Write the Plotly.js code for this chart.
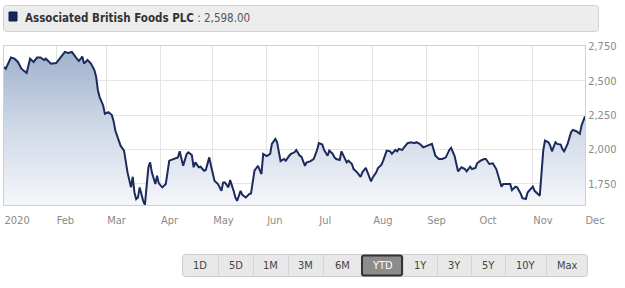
<!DOCTYPE html>
<html>
<head>
<meta charset="utf-8">
<script src="https://cdn.plot.ly/plotly-3.0.1.min.js"></script>
<style>
  html, body { margin: 0; padding: 0; background: #ffffff; }
  #chart { width: 625px; height: 288px; }
</style>
</head>
<body>
<div id="chart"></div>
<script>
// ---- data ----
const dates = [
  "2020-01-02","2020-01-03","2020-01-06","2020-01-08","2020-01-10","2020-01-12","2020-01-15","2020-01-17","2020-01-19","2020-01-21",
  "2020-01-23","2020-01-25","2020-01-26","2020-01-28","2020-01-29","2020-02-01","2020-02-03","2020-02-06","2020-02-08","2020-02-10",
  "2020-02-12","2020-02-14","2020-02-16","2020-02-17","2020-02-19","2020-02-21","2020-02-23","2020-02-24","2020-02-25","2020-02-26",
  "2020-02-28","2020-02-29","2020-03-02","2020-03-04","2020-03-05","2020-03-06","2020-03-08","2020-03-09","2020-03-11","2020-03-12",
  "2020-03-13","2020-03-15","2020-03-16","2020-03-17","2020-03-18","2020-03-19","2020-03-20","2020-03-22","2020-03-23","2020-03-25",
  "2020-03-26","2020-03-27","2020-03-29","2020-03-30","2020-03-31","2020-04-02","2020-04-04","2020-04-06","2020-04-08","2020-04-09",
  "2020-04-11","2020-04-12","2020-04-14","2020-04-16","2020-04-17","2020-04-19","2020-04-20","2020-04-21","2020-04-23","2020-04-24",
  "2020-04-26","2020-04-27","2020-04-29","2020-04-30","2020-05-02","2020-05-04","2020-05-06","2020-05-07","2020-05-08","2020-05-10",
  "2020-05-11","2020-05-13","2020-05-14","2020-05-15","2020-05-17","2020-05-18","2020-05-20","2020-05-22","2020-05-23","2020-05-25",
  "2020-05-27","2020-05-29","2020-05-30","2020-06-01","2020-06-03","2020-06-04","2020-06-06","2020-06-07","2020-06-08","2020-06-09",
  "2020-06-11","2020-06-12","2020-06-14","2020-06-15","2020-06-17","2020-06-18","2020-06-20","2020-06-21","2020-06-23","2020-06-24",
  "2020-06-26","2020-06-28","2020-06-30","2020-07-01","2020-07-03","2020-07-04","2020-07-06","2020-07-07","2020-07-09","2020-07-10",
  "2020-07-11","2020-07-13","2020-07-14","2020-07-16","2020-07-17","2020-07-18","2020-07-20","2020-07-21","2020-07-23","2020-07-25",
  "2020-07-26","2020-07-28","2020-07-30","2020-07-31","2020-08-01","2020-08-03","2020-08-04","2020-08-06","2020-08-07","2020-08-09",
  "2020-08-11","2020-08-12","2020-08-14","2020-08-15","2020-08-16","2020-08-18","2020-08-19","2020-08-21","2020-08-23","2020-08-25",
  "2020-08-26","2020-08-28","2020-08-30","2020-09-01","2020-09-03","2020-09-04","2020-09-06","2020-09-08","2020-09-10","2020-09-12",
  "2020-09-14","2020-09-15","2020-09-17","2020-09-19","2020-09-21","2020-09-23","2020-09-24","2020-09-26","2020-09-27","2020-09-29",
  "2020-09-30","2020-10-02","2020-10-04","2020-10-05","2020-10-07","2020-10-09","2020-10-11","2020-10-12","2020-10-14","2020-10-15",
  "2020-10-17","2020-10-19","2020-10-20","2020-10-22","2020-10-23","2020-10-25","2020-10-26","2020-10-28","2020-10-29","2020-10-31",
  "2020-11-01","2020-11-02","2020-11-04","2020-11-05","2020-11-07","2020-11-08","2020-11-10","2020-11-11","2020-11-12","2020-11-14",
  "2020-11-15","2020-11-17","2020-11-18","2020-11-19","2020-11-21","2020-11-23","2020-11-24","2020-11-26","2020-11-28","2020-11-29",
  "2020-12-01"
];
const prices = [
  2600,2587,2668,2660,2636,2587,2556,2660,2636,2668,
  2668,2650,2660,2636,2624,2628,2660,2709,2702,2709,
  2675,2643,2675,2624,2650,2624,2575,2527,2429,2381,
  2320,2259,2272,2250,2206,2138,2065,2028,1992,1895,
  1834,1725,1802,1688,1640,1651,1725,1627,1598,1871,
  1907,1834,1749,1810,1754,1725,1749,1919,1931,1936,
  1943,1987,1882,1968,1980,1960,1871,1907,1871,1875,
  1846,1851,1943,1882,1773,1749,1700,1761,1761,1725,
  1778,1700,1652,1627,1700,1671,1652,1676,1681,1846,
  1882,1822,1968,1953,1968,2041,2077,2053,1980,1915,
  1931,1919,1955,1968,1980,1997,1955,1948,1882,1907,
  1914,1931,1997,2046,2036,1997,1955,1992,1968,1943,
  1931,1924,1987,1931,1907,1919,1895,1858,1834,1802,
  1834,1866,1797,1768,1797,1834,1866,1890,1919,1992,
  1987,1968,1997,1987,2004,1997,2016,2046,2053,2046,
  2053,2041,2016,2028,2036,2041,1955,1931,1931,1943,
  1997,2012,1955,1842,1871,1858,1842,1875,1858,1866,
  1900,1919,1931,1931,1895,1900,1858,1810,1730,1749,
  1749,1749,1705,1730,1725,1681,1647,1640,1688,1720,
  1730,1700,1676,1664,1992,2065,2053,2028,1987,2053,
  2041,2036,2004,1987,2041,2126,2143,2133,2114,2175,
  2240
];
const monthTicks = ["2020-01-02","2020-02-01","2020-03-01","2020-04-01","2020-05-01","2020-06-01","2020-07-01","2020-08-01","2020-09-01","2020-10-01","2020-11-01","2020-12-01"];
const monthLabels = ["2020","Feb","Mar","Apr","May","Jun","Jul","Aug","Sep","Oct","Nov","Dec"];
const priceTicks = [1750, 2000, 2250, 2500, 2750];
const companyName = "Associated British Foods PLC";
const lastPriceText = "2,598.00";
const rangeButtons = ["1D","5D","1M","3M","6M","YTD","1Y","3Y","5Y","10Y","Max"];
const selectedButton = "YTD";

// ---- layout helpers (pixel -> paper) ----
const PL = 4, PR = 585, PT = 46, PB = 205;
const px2x = p => (p - PL) / (PR - PL);
const py2y = p => (PB - p) / (PB - PT);
function roundRect(x0, y0, x1, y1, r) {
  const X0 = px2x(x0), X1 = px2x(x1), Y0 = py2y(y1), Y1 = py2y(y0);
  const rx = r / (PR - PL), ry = r / (PB - PT);
  return `M ${X0+rx},${Y1} L ${X1-rx},${Y1} Q ${X1},${Y1} ${X1},${Y1-ry} L ${X1},${Y0+ry} Q ${X1},${Y0} ${X1-rx},${Y0} L ${X0+rx},${Y0} Q ${X0},${Y0} ${X0},${Y0+ry} L ${X0},${Y1-ry} Q ${X0},${Y1} ${X0+rx},${Y1} Z`;
}

const FONT = "DejaVu Sans Condensed, DejaVu Sans, Verdana, sans-serif";
const shapes = [];
const annotations = [];

// title box
shapes.push({type:'path', xref:'paper', yref:'paper', path: roundRect(3.5, 5.5, 598.5, 31.5, 3),
  fillcolor:'#ededed', line:{color:'#d2d2d2', width:1}, layer:'above'});
shapes.push({type:'rect', xref:'paper', yref:'paper', x0:px2x(9), x1:px2x(17), y0:py2y(21), y1:py2y(12),
  fillcolor:'#17275c', line:{color:'#0e1a45', width:1}, layer:'above'});
annotations.push({xref:'paper', yref:'paper', x:px2x(23), y:py2y(18.5), xanchor:'left', yanchor:'middle', showarrow:false,
  text:`<b>${companyName}</b><span style="color:#555"> : ${lastPriceText}</span>`,
  font:{family:FONT, size:11.5, color:'#333333'}});

// range buttons
const edges = [182, 218, 253, 288, 323, 361, 403, 437, 471, 505, 546, 588];
const BT = 254, BB = 277;
shapes.push({type:'path', xref:'paper', yref:'paper', path: roundRect(edges[0]+0.5, BT+0.5, edges[edges.length-1]-0.5, BB-0.5, 3),
  fillcolor:'#e8e8e8', line:{color:'#cbcbcb', width:1}, layer:'above'});
rangeButtons.forEach((lab, i) => {
  const x0 = edges[i], x1 = edges[i+1];
  if (i > 0) {
    shapes.push({type:'line', xref:'paper', yref:'paper', x0:px2x(x0+0.5), x1:px2x(x0+0.5), y0:py2y(BB-1), y1:py2y(BT+1),
      line:{color:'#d6d6d6', width:1}, layer:'above'});
  }
  const sel = lab === selectedButton;
  if (sel) {
    shapes.push({type:'path', xref:'paper', yref:'paper', path: roundRect(x0+1, BT+1.5, x1-1, BB-1.5, 2),
      fillcolor:'#8c8c8c', line:{color:'#333333', width:2}, layer:'above'});
  }
  annotations.push({xref:'paper', yref:'paper', x:px2x((x0+x1)/2), y:py2y((BT+BB)/2), xanchor:'center', yanchor:'middle',
    showarrow:false, text: lab, font:{family:FONT, size:11, color: sel ? '#ffffff' : '#444444'}});
});

const trace = {
  type:'scatter', mode:'lines', x: dates, y: prices,
  line:{color:'#1c2a5c', width:2},
  fill:'tozeroy',
  fillgradient:{type:'vertical', start:1597, stop:2710,
    colorscale:[[0,'rgba(244,246,250,1)'],[0.5,'rgba(208,217,231,1)'],[1,'rgba(160,178,204,1)']]},
  hoverinfo:'skip'
};

const layout = {
  width:625, height:288,
  margin:{l:PL, r:625-PR, t:PT, b:288-PB, pad:0},
  paper_bgcolor:'#ffffff', plot_bgcolor:'#ffffff',
  showlegend:false,
  font:{family:FONT, size:11, color:'#888888'},
  xaxis:{
    type:'date', range:['2020-01-02','2020-12-01'],
    tickmode:'array', tickvals: monthTicks, ticktext: monthLabels,
    ticklabelposition:'outside right', ticklabelstandoff:5,
    showgrid:true, gridcolor:'#e4e4e4', gridwidth:1,
    showline:true, linecolor:'#d0d0d0', linewidth:1, mirror:true,
    ticks:'', zeroline:false, fixedrange:true,
    tickfont:{family:FONT, size:11, color:'#8a8a8a'}
  },
  yaxis:{
    side:'right', range:[1597, 2752],
    tickmode:'array', tickvals: priceTicks, tickformat:',',
    showgrid:true, gridcolor:'#e4e4e4', gridwidth:1,
    showline:true, linecolor:'#d0d0d0', linewidth:1, mirror:true,
    ticks:'', zeroline:false, fixedrange:true,
    tickfont:{family:FONT, size:11, color:'#8a8a8a'}
  },
  shapes: shapes,
  annotations: annotations
};

Plotly.newPlot('chart', [trace], layout, {displayModeBar:false, staticPlot:true});
</script>
</body>
</html>
